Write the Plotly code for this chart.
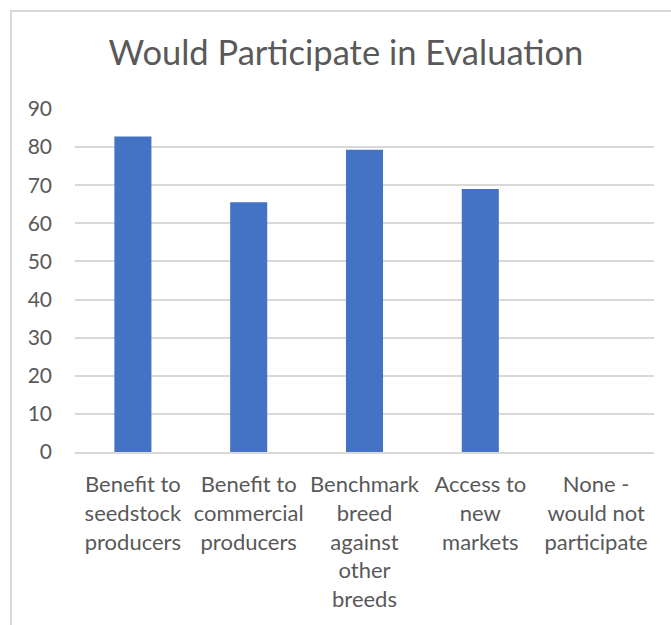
import plotly.graph_objects as go

# Survey responses: share of respondents (%) by reason
categories = [
    "Benefit to<br>seedstock<br>producers",
    "Benefit to<br>commercial<br>producers",
    "Benchmark<br>breed<br>against<br>other<br>breeds",
    "Access to<br>new<br>markets",
    "None -<br>would not<br>participate",
]
values = [82.8, 65.5, 79.3, 69.0, 0]
y_ticks = [0, 10, 20, 30, 40, 50, 60, 70, 80, 90]

text_color = "#595959"
grid_color = "#d9d9d9"
bar_color = "#4472C4"
font_family = "Lato, 'Noto Sans', sans-serif"

fig = go.Figure(
    go.Bar(x=categories, y=values, marker=dict(color=bar_color, line=dict(width=0)))
)

W, H = 671, 625
L, R, T, B = 75, 17, 109, 173
pw = W - L - R
ph = H - T - B

def px_x(px):
    return (px - L) / pw

def px_y(py):
    return (H - B - py) / ph

fig.update_layout(
    width=W,
    height=H,
    margin=dict(l=L, r=R, t=T, b=B),
    paper_bgcolor="white",
    plot_bgcolor="white",
    bargap=0.68,
    showlegend=False,
    font=dict(family=font_family, color=text_color, size=22),
    title=dict(
        text="Would Participate in Evaluation",
        x=px_x(346), xref="paper", xanchor="center",
        y=1 - 53 / H, yref="container", yanchor="middle",
        font=dict(size=34.5, color=text_color, family=font_family, weight=400),
    ),
    xaxis=dict(
        showgrid=False,
        showline=True,
        linecolor=grid_color,
        linewidth=2,
        tickfont=dict(size=22, color=text_color),
        ticklabelstandoff=12,
        fixedrange=True,
    ),
    yaxis=dict(
        range=[0, 90],
        tickvals=y_ticks,
        showgrid=True,
        gridcolor=grid_color,
        gridwidth=2,
        zeroline=False,
        tickfont=dict(size=21, color=text_color),
        ticklabelstandoff=22,
        fixedrange=True,
    ),
    shapes=[
        dict(
            type="rect", xref="paper", yref="paper",
            x0=px_x(11), x1=px_x(700), y0=px_y(11), y1=px_y(700),
            line=dict(color=grid_color, width=2), fillcolor="rgba(0,0,0,0)",
            layer="below",
        )
    ],
)

fig.write_html("out.html")
